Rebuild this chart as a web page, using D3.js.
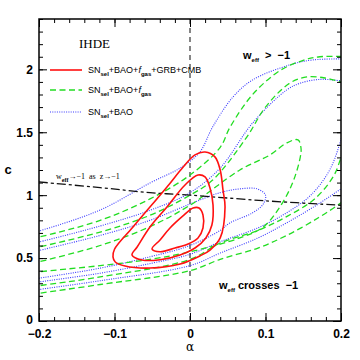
<!DOCTYPE html>
<html>
<head>
<meta charset="utf-8">
<script src="https://cdn.jsdelivr.net/npm/d3@7"></script>
<style>
  body { margin: 0; background: #fff; }
  svg { display: block; }
</style>
</head>
<body>
<script>
// chart size and frame
const width = 360;
const height = 360;
const margin = { top: 19, right: 19, bottom: 39, left: 39 };

// axis ticks
const xMajor = [-0.2, -0.1, 0, 0.1, 0.2];
const xMinor = d3.range(-0.2, 0.2001, 0.02);
const yMajor = [0, 0.5, 1, 1.5, 2];
const yMinor = d3.range(0, 2.4001, 0.1);

// contours [alpha, c] -- red: closed 1,2,3 sigma
const redInner = [[-0.0503,0.572],[-0.0397,0.644],[-0.0265,0.739],[-0.0093,0.835],[0.004,0.898],[0.012,0.898],[0.0172,0.843],[0.0172,0.739],[0.0106,0.66],[-0.0026,0.612],[-0.0199,0.58],[-0.0397,0.55]];
const redMiddle = [[-0.0768,0.525],[-0.070,0.588],[-0.053,0.747],[-0.0305,0.906],[-0.0066,1.081],[0.0106,1.16],[0.0199,1.145],[0.0265,1.057],[0.0305,0.922],[0.029,0.763],[0.021,0.66],[0.0066,0.58],[-0.0132,0.525],[-0.0397,0.487],[-0.0636,0.485]];
const redOuter = [[-0.102,0.51],[-0.100,0.57],[-0.0755,0.747],[-0.0305,1.065],[-0.009,1.224],[0.0066,1.32],[0.020,1.343],[0.033,1.304],[0.040,1.2],[0.0437,1.041],[0.0464,0.906],[0.040,0.66],[0.0265,0.564],[0.013,0.517],[-0.013,0.453],[-0.053,0.421],[-0.086,0.437],[-0.099,0.469]];

// green (SN+BAO+fgas)
const greenInner = [[-0.21,0.455],[-0.2,0.47],[-0.119,0.60],[-0.053,0.75],[0,0.92],[0.066,1.20],[0.106,1.32],[0.128,1.415],[0.143,1.44],[0.147,1.375],[0.146,1.30],[0.136,1.10],[0.119,0.906],[0.097,0.747],[0.066,0.66],[0,0.55],[-0.053,0.49],[-0.119,0.44],[-0.2,0.39],[-0.21,0.38]];
const greenMidUpper = [[-0.21,0.575],[-0.2,0.588],[-0.119,0.707],[-0.053,0.84],[0,1.0],[0.030,1.12],[0.075,1.46],[0.1,1.70],[0.132,1.89],[0.155,1.94],[0.18,1.93],[0.2,1.90],[0.21,1.89]];
const greenMidLower = [[-0.21,0.27],[-0.2,0.28],[-0.119,0.35],[0,0.49],[0.04,0.62],[0.09,0.72],[0.128,0.83],[0.165,0.97],[0.19,1.15],[0.2,1.30],[0.205,1.40]];
const greenOutUpper = [[-0.21,0.655],[-0.2,0.667],[-0.119,0.80],[-0.053,0.97],[0,1.16],[0.04,1.38],[0.053,1.54],[0.083,1.80],[0.119,1.99],[0.149,2.07],[0.172,2.10],[0.21,2.10]];
const greenOutLower = [[-0.21,0.21],[-0.2,0.22],[-0.119,0.29],[0,0.40],[0.04,0.49],[0.09,0.58],[0.128,0.68],[0.17,0.82],[0.2,0.94],[0.21,0.99]];

// blue (SN+BAO)
const blueInner = [[-0.21,0.545],[-0.2,0.56],[-0.119,0.68],[-0.053,0.80],[0,0.93],[0.04,1.02],[0.066,1.05],[0.089,1.05],[0.100,1.00],[0.097,0.93],[0.083,0.86],[0.053,0.78],[0.04,0.72],[0,0.60],[-0.053,0.51],[-0.119,0.42],[-0.2,0.34],[-0.21,0.33]];
const blueMidUpper = [[-0.21,0.615],[-0.2,0.628],[-0.119,0.755],[-0.053,0.88],[0,1.02],[0.04,1.216],[0.083,1.574],[0.128,1.836],[0.146,1.89],[0.172,1.92],[0.2,1.91],[0.21,1.91]];
const blueMidLower = [[-0.21,0.30],[-0.2,0.31],[-0.119,0.38],[-0.05,0.46],[0,0.53],[0.04,0.63],[0.09,0.74],[0.128,0.86],[0.16,1.0],[0.185,1.2],[0.2,1.44],[0.205,1.55]];
const blueOutUpper = [[-0.21,0.70],[-0.2,0.715],[-0.119,0.882],[-0.053,1.097],[-0.013,1.216],[0.013,1.343],[0.030,1.542],[0.057,1.781],[0.083,1.916],[0.132,2.035],[0.163,2.075],[0.21,2.083]];
const blueOutLower = [[-0.21,0.24],[-0.2,0.25],[-0.119,0.32],[0,0.44],[0.04,0.54],[0.09,0.66],[0.128,0.78],[0.17,0.93],[0.2,1.05],[0.21,1.09]];

// w_eff -> -1 as z -> -1 line
const limitLine = [[-0.2,1.105],[-0.119,1.06],[-0.053,1.02],[0,1.0],[0.1,0.955],[0.2,0.92]];

const svg = d3.select('body')
  .append('svg')
  .attr('width', width)
  .attr('height', height);

const x = d3.scaleLinear()
  .domain([-0.2, 0.2])
  .range([margin.left, width - margin.right]);

const y = d3.scaleLinear()
  .domain([0, 2.4])
  .range([height - margin.bottom, margin.top]);

svg.append('clipPath')
  .attr('id', 'frame')
  .append('rect')
  .attr('x', margin.left)
  .attr('y', margin.top)
  .attr('width', width - margin.left - margin.right)
  .attr('height', height - margin.top - margin.bottom);

const plot = svg.append('g').attr('clip-path', 'url(#frame)');

const openLine = d3.line().x(d => x(d[0])).y(d => y(d[1])).curve(d3.curveCatmullRom);
const closedLine = d3.line().x(d => x(d[0])).y(d => y(d[1])).curve(d3.curveCatmullRomClosed);

// styles
const blueStyle = { color: '#3a3aff', width: 1.1, dash: '1,1.3' };
const greenStyle = { color: '#22dd22', width: 1.3, dash: '6,3.5' };
const redStyle = { color: '#ff1111', width: 1.6, dash: null };

function drawLines(list, style, gen) {
  plot.append('g')
    .selectAll('path')
    .data(list)
    .join('path')
      .attr('d', gen)
      .attr('fill', 'none')
      .attr('stroke', style.color)
      .attr('stroke-width', style.width)
      .attr('stroke-dasharray', style.dash);
}

// vertical line alpha = 0
plot.append('line')
  .attr('x1', x(0)).attr('x2', x(0))
  .attr('y1', y(0)).attr('y2', y(2.4))
  .attr('stroke', '#444')
  .attr('stroke-width', 1.3)
  .attr('stroke-dasharray', '5,4');

drawLines([blueInner, blueMidUpper, blueMidLower, blueOutUpper, blueOutLower], blueStyle, openLine);
drawLines([greenInner, greenMidUpper, greenMidLower, greenOutUpper, greenOutLower], greenStyle, openLine);

plot.append('path')
  .attr('d', openLine(limitLine))
  .attr('fill', 'none')
  .attr('stroke', '#111')
  .attr('stroke-width', 1.3)
  .attr('stroke-dasharray', '9,3,3,3');

drawLines([redInner, redMiddle, redOuter], redStyle, closedLine);

// axes
const font = 'Liberation Sans, Arial, sans-serif';
const fmt = d3.format('~g');

function styleAxis(g) {
  g.select('.domain').remove();
  g.selectAll('line').attr('stroke', '#000').attr('stroke-width', 1);
  g.selectAll('text').attr('font-family', font).attr('font-size', 12).attr('font-weight', 'bold').attr('fill', '#000');
}

const bottomY = height - margin.bottom;
const rightX = width - margin.right;

svg.append('g').attr('transform', `translate(0,${bottomY})`)
  .call(d3.axisBottom(x).tickValues(xMinor).tickSize(-4).tickFormat('')).call(styleAxis);
svg.append('g').attr('transform', `translate(0,${bottomY})`)
  .call(d3.axisBottom(x).tickValues(xMajor).tickSize(-8).tickPadding(8).tickFormat(fmt)).call(styleAxis);
svg.append('g').attr('transform', `translate(0,${margin.top})`)
  .call(d3.axisTop(x).tickValues(xMinor).tickSize(-4).tickFormat('')).call(styleAxis);
svg.append('g').attr('transform', `translate(0,${margin.top})`)
  .call(d3.axisTop(x).tickValues(xMajor).tickSize(-8).tickFormat('')).call(styleAxis);

svg.append('g').attr('transform', `translate(${margin.left},0)`)
  .call(d3.axisLeft(y).tickValues(yMinor).tickSize(-4).tickFormat('')).call(styleAxis);
svg.append('g').attr('transform', `translate(${margin.left},0)`)
  .call(d3.axisLeft(y).tickValues(yMajor).tickSize(-8).tickPadding(6).tickFormat(fmt)).call(styleAxis);
svg.append('g').attr('transform', `translate(${rightX},0)`)
  .call(d3.axisRight(y).tickValues(yMinor).tickSize(-4).tickFormat('')).call(styleAxis);
svg.append('g').attr('transform', `translate(${rightX},0)`)
  .call(d3.axisRight(y).tickValues(yMajor).tickSize(-8).tickFormat('')).call(styleAxis);

// the "0" on c axis sits a bit higher so it clears the -0.2 label
svg.selectAll('g text').filter(function () { return this.textContent === '0' && this.getAttribute('x') !== null && +this.getAttribute('x') < 0; })
  .attr('dy', '0.2em');

// frame
svg.append('rect')
  .attr('x', margin.left)
  .attr('y', margin.top)
  .attr('width', rightX - margin.left)
  .attr('height', bottomY - margin.top)
  .attr('fill', 'none')
  .attr('stroke', '#000')
  .attr('stroke-width', 1.5);

// axis titles
svg.append('text')
  .attr('x', x(0)).attr('y', 351)
  .attr('text-anchor', 'middle')
  .attr('font-family', 'DejaVu Serif, serif')
  .attr('font-size', 12)
  .text('α');

svg.append('text')
  .attr('x', 8).attr('y', 174)
  .attr('text-anchor', 'middle')
  .attr('font-family', font)
  .attr('font-size', 13)
  .attr('font-weight', 'bold')
  .text('c');

// IHDE label
svg.append('text')
  .attr('x', 79).attr('y', 48)
  .attr('font-family', 'Liberation Serif, serif')
  .attr('font-size', 13)
  .text('IHDE');

// legend
const legendItems = [
  { style: redStyle, parts: [['SN'], ['sel', 'sub'], ['+BAO+'], ['f', 'it'], ['gas', 'sub'], ['+GRB+CMB']] },
  { style: greenStyle, parts: [['SN'], ['sel', 'sub'], ['+BAO+'], ['f', 'it'], ['gas', 'sub']] },
  { style: blueStyle, parts: [['SN'], ['sel', 'sub'], ['+BAO']] }
];
const legendY = [70, 90, 112];

const legend = svg.append('g');
legendItems.forEach((item, i) => {
  legend.append('line')
    .attr('x1', 50).attr('x2', 82)
    .attr('y1', legendY[i]).attr('y2', legendY[i])
    .attr('stroke', item.style.color)
    .attr('stroke-width', item.style.width)
    .attr('stroke-dasharray', item.style.dash);
  const t = legend.append('text')
    .attr('x', 88).attr('y', legendY[i] + 3)
    .attr('font-family', font)
    .attr('font-size', 9);
  addParts(t, item.parts);
});

function addParts(t, parts) {
  let shifted = false;
  parts.forEach(p => {
    const s = t.append('tspan').text(p[0]);
    if (p[1] === 'sub') {
      s.attr('font-size', 6).attr('font-weight', 'bold').attr('dy', shifted ? 0 : 2.5);
      shifted = true;
    } else {
      if (shifted) s.attr('dy', -2.5);
      shifted = false;
      if (p[1] === 'it') s.attr('font-style', 'italic');
    }
  });
}

// annotations
const a1 = svg.append('text').attr('x', 243).attr('y', 59)
  .attr('font-family', font).attr('font-size', 11).attr('font-weight', 'bold');
a1.attr('xml:space', 'preserve');
addParts(a1, [['w'], ['eff', 'sub'], ['  >  −1']]);

const a2 = svg.append('text').attr('x', 219).attr('y', 289)
  .attr('font-family', font).attr('font-size', 11).attr('font-weight', 'bold');
a2.attr('xml:space', 'preserve');
addParts(a2, [['w'], ['eff', 'sub'], [' crosses  −1']]);

const a3 = svg.append('text').attr('x', 56).attr('y', 179)
  .attr('font-family', 'Liberation Serif, serif').attr('font-size', 8);
a3.attr('xml:space', 'preserve');
addParts(a3, [['w'], ['eff', 'sub'], ['→−1  as  z→−1']]);
</script>
</body>
</html>
